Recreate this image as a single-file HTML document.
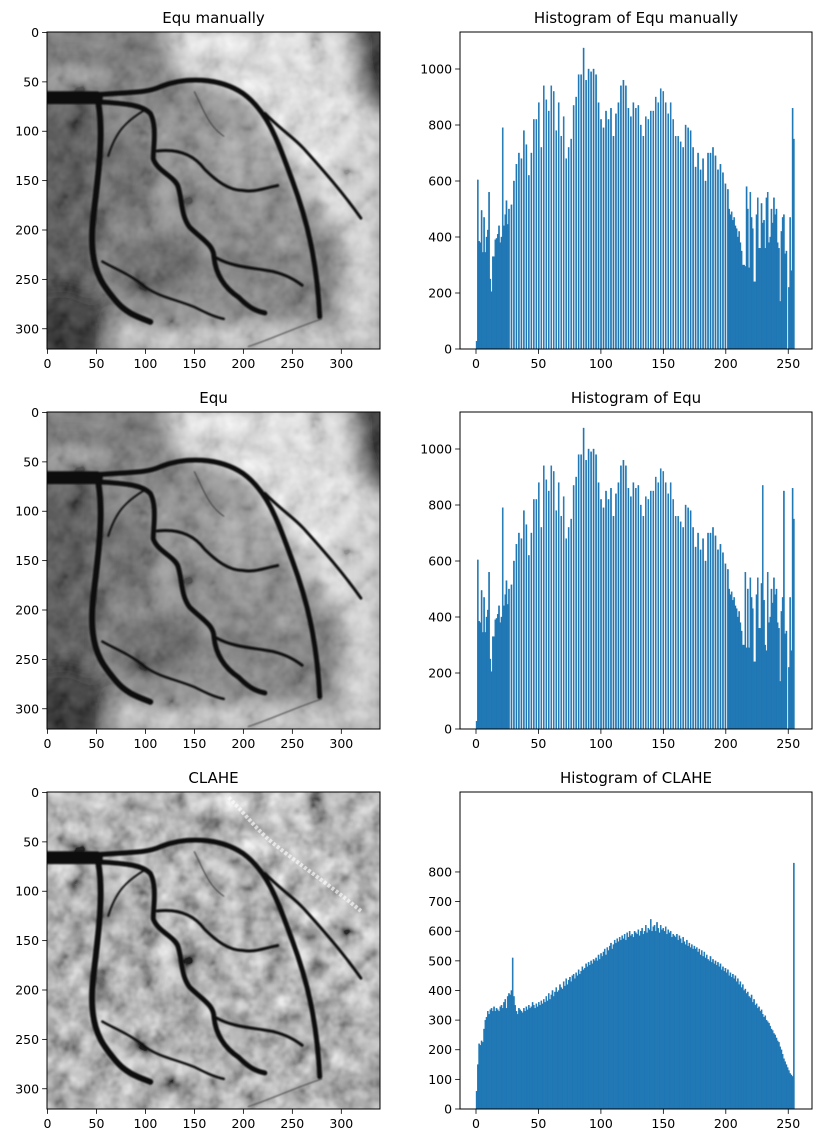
<!DOCTYPE html>
<html><head><meta charset="utf-8">
<style>
html,body{margin:0;padding:0;background:#fff;}
svg{display:block;font-family:"DejaVu Sans","Liberation Sans",sans-serif;}
</style></head>
<body>
<svg id="fig" width="821" height="1144" viewBox="0 0 821 1144" xmlns="http://www.w3.org/2000/svg">
<defs>
  <filter id="bgblur" x="-20%" y="-20%" width="140%" height="140%"><feGaussianBlur stdDeviation="9"/></filter>
  <filter id="vblur"><feGaussianBlur stdDeviation="0.8"/></filter>
  <filter id="noise" x="0" y="0" width="100%" height="100%">
    <feTurbulence type="fractalNoise" baseFrequency="0.045" numOctaves="3" seed="7"/>
    <feColorMatrix type="matrix" values="0.33 0.33 0.33 0 0  0.33 0.33 0.33 0 0  0.33 0.33 0.33 0 0  0 0 0 0 1"/>
    <feComponentTransfer><feFuncR type="linear" slope="2.2" intercept="-0.6"/><feFuncG type="linear" slope="2.2" intercept="-0.6"/><feFuncB type="linear" slope="2.2" intercept="-0.6"/></feComponentTransfer>
  </filter>
  <g id="bg-equ">
    <rect x="-1" y="-1" width="342" height="323" fill="#666"/>
    <g filter="url(#bgblur)">
      <ellipse cx="170" cy="175" rx="110" ry="105" fill="#7a7a7a"/>
      <polygon points="120,-10 300,-10 345,60 345,285 300,210 205,72 130,42" fill="#eeeeee"/>
      <rect x="300" y="120" width="45" height="200" fill="#d8d8d8"/>
      <ellipse cx="345" cy="15" rx="35" ry="70" fill="#050505"/>
      <rect x="-10" y="-10" width="60" height="340" fill="#2e2e2e"/>
      <ellipse cx="15" cy="300" rx="45" ry="45" fill="#000"/>
      <rect x="-5" y="-5" width="120" height="40" fill="#5e5e5e"/>
      <rect x="-5" y="42" width="60" height="12" fill="#c8c8c8"/>
      <rect x="70" y="294" width="270" height="30" fill="#d0d0d0"/>
      <ellipse cx="110" cy="235" rx="45" ry="30" fill="#444"/>
      <ellipse cx="200" cy="125" rx="40" ry="30" fill="#999"/>
      <ellipse cx="80" cy="150" rx="25" ry="45" fill="#4a4a4a"/>
      <ellipse cx="200" cy="230" rx="40" ry="25" fill="#666"/>
    </g>
    <rect x="-1" y="-1" width="342" height="323" filter="url(#noise)" opacity="0.35"/>
  </g>
  <g id="bg-clahe">
    <rect x="-1" y="-1" width="342" height="323" fill="#999"/>
    <g filter="url(#bgblur)">
      <polygon points="150,-10 240,-10 345,110 345,230 300,200 215,70" fill="#d0d0d0"/>
      <rect x="-10" y="42" width="60" height="12" fill="#e6e6e6"/>
      <ellipse cx="60" cy="140" rx="30" ry="40" fill="#666"/>
      <ellipse cx="330" cy="300" rx="30" ry="30" fill="#555"/>
    </g>
    <rect x="-1" y="-1" width="342" height="323" filter="url(#noise)" opacity="0.8"/>
    <path d="M185,5 C205,25 215,40 235,55 C260,75 290,95 320,120" stroke="#fff" stroke-width="4" fill="none" opacity="0.6" stroke-dasharray="3 2"/>
  </g>
  <g id="vessels" fill="none" stroke="#111" stroke-linecap="round" filter="url(#vblur)">
    <path d="M-2,66 L50,66" stroke-width="13"/>
    <path d="M40,64 C80,60 100,62 115,55 C140,45 175,45 200,62 C225,80 235,110 250,150 C265,190 275,230 278,288" stroke-width="5"/>
    <path d="M50,70 C75,72 95,72 105,82 C112,95 108,115 108,128 C112,140 128,145 133,155 C138,170 136,185 145,197 C158,210 170,215 170,228 C172,245 180,258 195,268 C205,278 212,282 222,284" stroke-width="5"/>
    <path d="M52,72 C56,95 54,125 51,150 C48,180 44,200 46,220 C48,245 58,258 70,272 C80,284 92,288 105,293" stroke-width="6"/>
    <path d="M222,82 C240,100 250,105 262,118 C280,138 300,160 320,188" stroke-width="3"/>
    <path d="M112,120 C130,118 148,122 160,138 C172,150 185,160 200,160 C210,162 220,158 235,155" stroke-width="3"/>
    <path d="M172,228 C190,238 210,238 230,242 C245,246 252,250 260,256" stroke-width="3"/>
    <path d="M56,232 C70,240 85,245 100,258 C115,268 130,270 150,278 C160,283 170,288 180,290" stroke-width="2.5"/>
    <path d="M100,78 C80,90 70,100 62,125" stroke-width="2"/>
    <path d="M280,290 C250,300 230,310 205,318" stroke-width="1.2" stroke="#555"/>
    <path d="M150,60 C160,80 165,95 180,105" stroke-width="1.2" stroke="#444"/>
  </g>
</defs>
<g id="layer"></g>
</svg>
<script>
// ---- chart data ----
const hist1Low = [28,604,385,380,495,345,470,345,400,425,560,250,205,330,330,390,395,410,440,380,400,790,440,480,530,445,500,0];
const hist1MidEven = [515,600,660,700,680,780,730,620,700,820,820,880,720,940,890,850,940,920,780,880,760,830,680,720,750,870,900,980,980,1075,960,1000,990,1000,980,880,820,790,850,820,860,760,840,880,940,960,940,860,830,880,860,870,800,760,830,820,850,850,900,880,930,920,880,840,880,820,760,760,740,720,800,790,780,720,650,700,640,680,600,700,700,720,690,640,660,630,590,570];
const hist1High = [500,480,490,460,470,440,430,400,420,380,350,300,300,295,580,500,290,560,470,430,240,240,480,540,360,360,520,450,460,360,540,560,380,400,500,450,540,480,500,380,360,170,420,470,480,340,350,0,220,470,280,860,750];
const hist2High = [500,480,490,460,470,440,430,400,420,380,350,300,300,560,290,500,290,540,470,430,240,240,480,540,360,360,520,870,460,300,280,560,380,400,500,450,540,480,500,380,360,170,420,470,850,340,350,0,220,470,280,860,750];
const claheCounts = [60,150,220,215,230,225,270,300,310,330,320,335,340,330,345,330,
340,335,330,345,350,340,360,370,340,380,390,385,400,510,380,350,
330,320,340,335,330,325,340,330,345,335,350,340,345,360,350,340,
355,345,360,350,365,355,370,360,380,365,390,370,385,400,380,395,
410,395,400,420,410,405,430,415,440,420,435,445,430,450,455,440,
460,450,470,455,465,480,470,475,490,480,495,485,500,490,505,500,
510,500,520,505,525,515,530,540,520,545,535,550,560,540,555,570,
560,575,565,580,570,585,575,590,570,595,580,600,585,590,580,600,
595,590,605,585,600,610,590,600,620,595,610,605,640,600,615,620,
600,630,610,595,620,605,610,600,615,590,605,595,600,580,590,585,
580,590,570,585,575,560,580,565,555,570,550,560,545,555,540,550,
540,545,530,540,520,535,515,530,510,520,505,500,515,495,505,490,
500,485,495,480,490,470,480,465,475,460,470,450,460,445,455,440,
450,430,440,420,430,410,420,400,405,390,395,380,375,385,360,370,
350,355,340,345,330,335,320,310,315,300,295,290,280,270,265,255,
250,240,230,225,210,200,185,170,160,150,140,130,120,115,110,830];
const histXTicks = [0,50,100,150,200,250];
const histYTicksEqu = [0,200,400,600,800,1000];
const histYTicksClahe = [0,100,200,300,400,500,600,700,800];
const imgTicks = [0,50,100,150,200,250,300];
const titlesLeft = ["Equ manually","Equ","CLAHE"];
const titlesRight = ["Histogram of Equ manually","Histogram of Equ","Histogram of CLAHE"];

function buildHist(low, midEven, high){
  const out = low.slice();
  for (let k=0;k<midEven.length;k++){ out.push(midEven[k]); if (out.length<203) out.push(0); }
  while (out.length<203) out.push(0);
  return out.slice(0,203).concat(high);
}
const hist1 = buildHist(hist1Low, hist1MidEven, hist1High);
const hist2 = buildHist(hist1Low, hist1MidEven, hist2High);

const NS = "http://www.w3.org/2000/svg";
const layer = document.getElementById('layer');
function el(tag, attrs, parent){
  const e = document.createElementNS(NS, tag);
  for (const k in attrs) e.setAttribute(k, attrs[k]);
  (parent||layer).appendChild(e);
  return e;
}
const rowTops = [32,412,792];
const AX_H = 317;
const LX0 = 47, LX1 = 380, RX0 = 460, RX1 = 812;
const TICK = 4.9, FS = 12.5;

function xHist(v){ return 476 + 1.249*v; }

rowTops.forEach((top, r)=>{
  const bottom = top + AX_H;
  const tl = el('text',{x:(LX0+LX1)/2, y:top-9, 'text-anchor':'middle','font-size':15, fill:'#000'});
  tl.textContent = titlesLeft[r];
  
  
  const img = el('svg',{x:LX0, y:top, width:LX1-LX0, height:AX_H, viewBox:'-0.5 -0.5 340 321', preserveAspectRatio:'none'});
  
  
  el('use',{href: r===2 ? '#bg-clahe' : '#bg-equ'}, img);
  el('use',{href:'#vessels'}, img);
  const sx = (LX1-LX0)/340, sy = AX_H/321;
  const lframe = el('rect',{x:LX0, y:top, width:LX1-LX0, height:AX_H, fill:'none', stroke:'#000','stroke-width':1});
  
  
  imgTicks.forEach(t=>{
    const px = LX0 + (t+0.5)*sx;
    el('line',{x1:px,x2:px,y1:bottom,y2:bottom+TICK,stroke:'#000','stroke-width':0.8});
    const tx = el('text',{x:px,y:bottom+TICK+14,'text-anchor':'middle','font-size':FS});
    tx.textContent = t;
    
    
    const py = top + (t+0.5)*sy;
    el('line',{x1:LX0-TICK,x2:LX0,y1:py,y2:py,stroke:'#000','stroke-width':0.8});
    const ty = el('text',{x:LX0-TICK-3,y:py+4.5,'text-anchor':'end','font-size':FS});
    ty.textContent = t;
    
    
  });

  const tr = el('text',{x:(RX0+RX1)/2, y:top-9, 'text-anchor':'middle','font-size':15});
  tr.textContent = titlesRight[r];
  
  
  const counts = r===0 ? hist1 : (r===1 ? hist2 : claheCounts);
  const ky = r===2 ? 0.2963 : 0.28;
  const yTicks = r===2 ? histYTicksClahe : histYTicksEqu;
  const g = el('g',{});
  
  
  counts.forEach((c,i)=>{
    if (c<=0) return;
    const x0 = xHist(i*255/256), x1 = xHist((i+1)*255/256);
    const h = c*ky;
    const b = el('rect',{x:x0.toFixed(2), y:(bottom-h).toFixed(2), width:(x1-x0).toFixed(2), height:h.toFixed(2), fill:'#1f77b4', stroke:'#1f77b4','stroke-width':0.35}, g);
    
    
  });
  const rframe = el('rect',{x:RX0, y:top, width:RX1-RX0, height:AX_H, fill:'none', stroke:'#000','stroke-width':1});
  
  
  histXTicks.forEach(t=>{
    const px = xHist(t);
    el('line',{x1:px,x2:px,y1:bottom,y2:bottom+TICK,stroke:'#000','stroke-width':0.8});
    const tx = el('text',{x:px,y:bottom+TICK+14,'text-anchor':'middle','font-size':FS});
    tx.textContent = t;
    
    
  });
  yTicks.forEach(t=>{
    const py = bottom - t*ky;
    el('line',{x1:RX0-TICK,x2:RX0,y1:py,y2:py,stroke:'#000','stroke-width':0.8});
    const ty = el('text',{x:RX0-TICK-3,y:py+4.5,'text-anchor':'end','font-size':FS});
    ty.textContent = t;
    
    
  });
});
</script>
</body></html>
